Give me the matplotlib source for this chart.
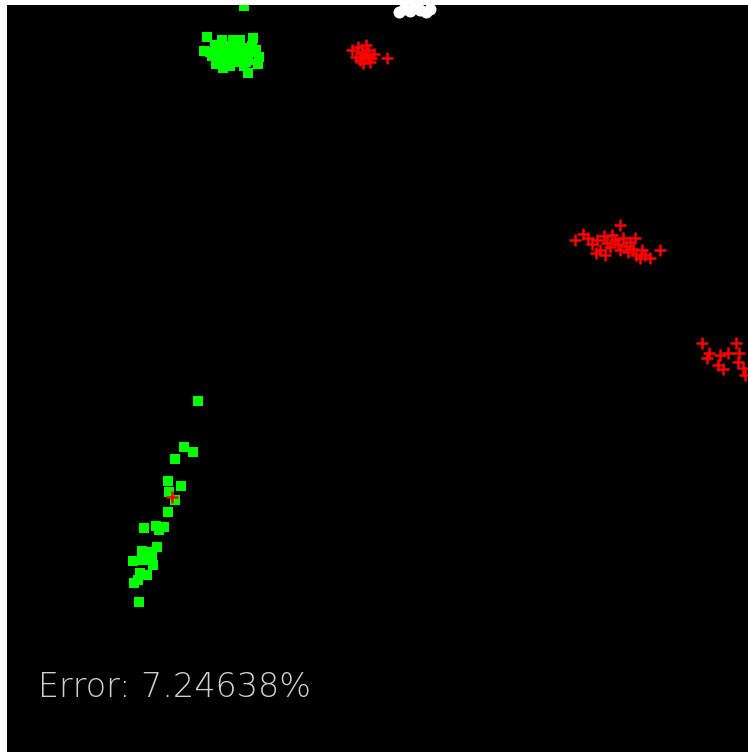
import numpy as np
import matplotlib
matplotlib.use("Agg")
import matplotlib.pyplot as plt

# class A (green squares), pixel coords of the image
green_x = [244, 207, 253, 233, 240, 248, 223, 204, 259, 215, 220, 228, 236, 244, 252, 212, 218, 226, 234, 242, 250, 256, 230, 238, 246,
           210, 222, 236, 248, 258, 216, 230, 244, 226,
           198, 184, 193, 175, 168, 181, 169, 175, 168, 144, 156, 164, 159, 157, 142, 133, 143, 152, 153, 140, 147, 138, 134, 139, 148]
green_y = [6, 37, 38, 40, 40, 73, 68, 51, 57, 45, 50, 46, 44, 48, 46, 56, 60, 58, 54, 55, 52, 50, 64, 62, 62,
           52, 40, 56, 60, 64, 64, 66, 66, 52,
           401, 447, 452, 459, 481, 486, 492, 500, 512, 528, 526, 527, 530, 547, 551, 561, 560, 557, 565, 573, 575, 580, 583, 602, 552]

# class B (red crosses)
red_x = [352, 358, 362, 365, 368, 371, 374, 360, 366, 356, 370, 387, 363, 362, 368,
         575, 583, 588, 592, 597, 600, 604, 607, 610, 612, 615, 618, 620, 620, 623, 626, 628, 630, 633, 635, 636,
         640, 642, 645, 650, 660, 596, 605,
         702, 709, 707, 720, 718, 723, 728, 736, 739, 738, 743, 745,
         172]
red_y = [50, 47, 52, 55, 50, 58, 54, 60, 45, 57, 62, 58, 63, 53, 57,
         240, 234, 238, 244, 240, 250, 236, 243, 247, 235, 240, 244, 225, 250, 238, 246, 252, 242, 249, 238, 255,
         258, 250, 255, 258, 250, 253, 255,
         343, 353, 358, 355, 365, 369, 353, 343, 353, 362, 368, 375,
         497]

# white blob (top)
white_x = [399, 404, 410, 414, 420, 426, 430]
white_y = [12, 9, 11, 7, 10, 12, 9]

error_text = "Error: 7.24638%"

fig = plt.figure(figsize=(7.48, 7.52), dpi=100)
fig.patch.set_facecolor("white")
ax = fig.add_axes([7/748, 0, 741/748, 747/752])
ax.set_facecolor("black")
ax.set_xlim(7, 748)
ax.set_ylim(752, 5)
ax.axis("off")
ax.add_patch(plt.Rectangle((7, 5), 741, 747, color="black", zorder=0))

ax.scatter(green_x, green_y, marker="s", s=55, c="#00ff00", linewidths=0, zorder=2)
ax.scatter(red_x, red_y, marker="+", s=70, c="#ff0000", linewidths=1.8, zorder=3)
ax.scatter(white_x, white_y, marker="o", s=75, c="white", linewidths=0, zorder=2)

ax.text(38, 687, error_text, color="#d0d0d0", fontsize=24, va="center", ha="left",
        family="DejaVu Sans", fontweight="light")

fig.savefig("out.png", dpi=100, facecolor="white")
